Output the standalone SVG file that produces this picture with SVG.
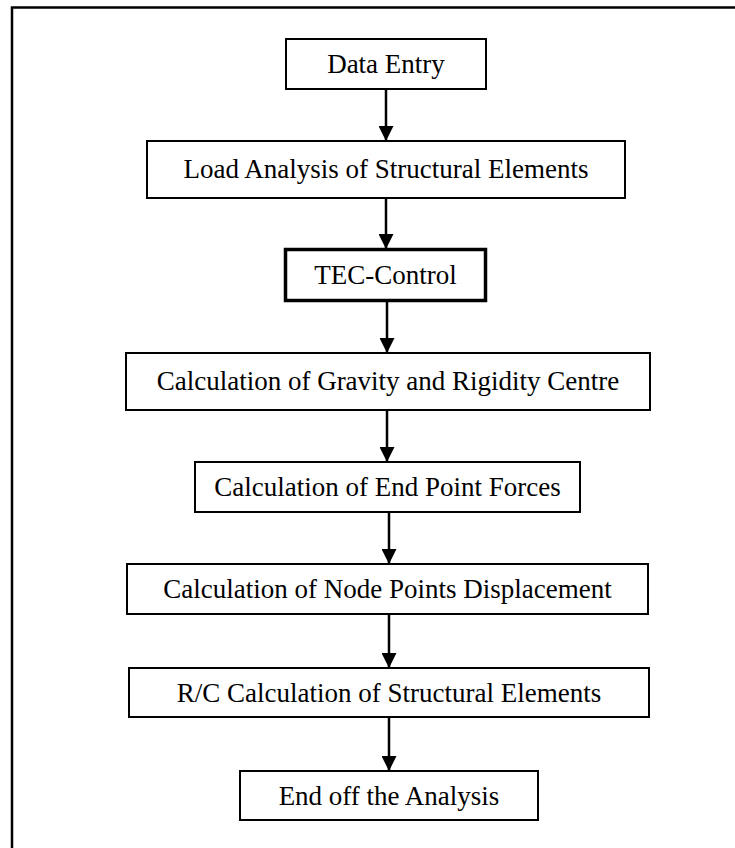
<svg xmlns="http://www.w3.org/2000/svg" width="735" height="848" viewBox="0 0 735 848">
<defs>
<marker id="ah" markerWidth="16" markerHeight="15" refX="15" refY="7.5" orient="auto" markerUnits="userSpaceOnUse">
<path d="M0,0 L15,7.5 L0,15 Z" fill="#000"/>
</marker>
<style>
.box{fill:#fff;stroke:#000;stroke-width:2}
.thick{fill:#fff;stroke:#000;stroke-width:3.5}
.lbl{font-family:"Liberation Serif","Times New Roman",serif;font-size:27px;fill:#000;text-anchor:middle}
.con{stroke:#000;stroke-width:2.5;fill:none}
</style>
</defs>
<rect width="735" height="848" fill="#fff"/>
<rect id="frame" x="12" y="7.5" width="740" height="860" fill="none" stroke="#000" stroke-width="2.5"/>
<g id="connectors">
<line class="con" x1="386" y1="89" x2="386" y2="141" marker-end="url(#ah)"/>
<line class="con" x1="386" y1="198" x2="386" y2="249" marker-end="url(#ah)"/>
<line class="con" x1="387" y1="301" x2="387" y2="353" marker-end="url(#ah)"/>
<line class="con" x1="387" y1="410" x2="387" y2="462" marker-end="url(#ah)"/>
<line class="con" x1="389" y1="512" x2="389" y2="564" marker-end="url(#ah)"/>
<line class="con" x1="389" y1="614" x2="389" y2="668" marker-end="url(#ah)"/>
<line class="con" x1="389" y1="717" x2="389" y2="771" marker-end="url(#ah)"/>
</g>
<g id="n1"><rect class="box" x="286" y="39" width="200" height="50"/><text class="lbl" x="386" y="73">Data Entry</text></g>
<g id="n2"><rect class="box" x="147" y="141" width="478" height="57"/><text class="lbl" x="386" y="178">Load Analysis of Structural Elements</text></g>
<g id="n3"><rect class="thick" x="285.5" y="249.5" width="200" height="51"/><text class="lbl" x="385.5" y="284">TEC-Control</text></g>
<g id="n4"><rect class="box" x="126" y="353" width="524" height="57"/><text class="lbl" x="388" y="390">Calculation of Gravity and Rigidity Centre</text></g>
<g id="n5"><rect class="box" x="195" y="462" width="385" height="50"/><text class="lbl" x="387.5" y="496">Calculation of End Point Forces</text></g>
<g id="n6"><rect class="box" x="127" y="564" width="521" height="50"/><text class="lbl" x="387.5" y="598">Calculation of Node Points Displacement</text></g>
<g id="n7"><rect class="box" x="129" y="668" width="520" height="49"/><text class="lbl" x="389" y="702">R/C Calculation of Structural Elements</text></g>
<g id="n8"><rect class="box" x="240" y="771" width="298" height="49"/><text class="lbl" x="389" y="805">End off the Analysis</text></g>
</svg>
